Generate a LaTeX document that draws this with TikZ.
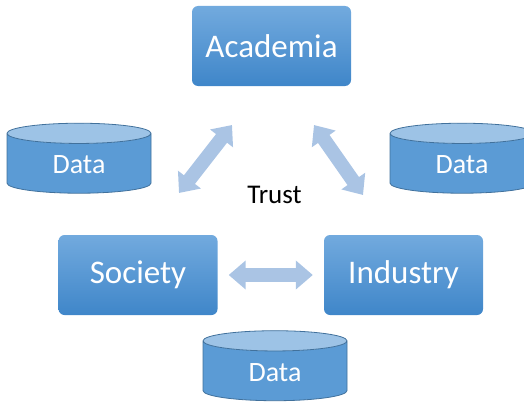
\documentclass[tikz,border=0pt]{standalone}
\usepackage{fontspec}
\setmainfont{Carlito}
\usetikzlibrary{shapes.geometric,arrows.meta}
\definecolor{boxtop}{HTML}{72AADE}
\definecolor{boxbottom}{HTML}{3F86C9}
\definecolor{drumbody}{HTML}{5B9BD5}
\definecolor{drumend}{HTML}{9DC3E6}
\definecolor{drumline}{HTML}{41719C}
\definecolor{trustblue}{HTML}{AAC4E4}
\tikzset{
  partner/.style={
    rounded corners=6pt, top color=boxtop, bottom color=boxbottom,
    text=white, minimum width=159pt, minimum height=80pt,
    font=\fontsize{33}{38}\selectfont}}
\tikzset{
  datadrum/.style={
    cylinder, shape border rotate=90, aspect=0.34,
    cylinder uses custom fill, cylinder body fill=drumbody,
    cylinder end fill=drumend, draw=drumline, line width=0.8pt,
    minimum width=144pt, minimum height=70pt, text=white,
    font=\fontsize{28}{32}\selectfont}}
\tikzset{
  trust arrow/.style={
    draw=trustblue, line width=14pt,
    {Triangle[width=28pt,length=17pt]}-{Triangle[width=28pt,length=17pt]}}}
\begin{document}
\begin{tikzpicture}[x=1pt,y=-1pt]
    \useasboundingbox (0,0) rectangle (524,404);
    \clip (0,0) rectangle (524,404);
    % partners
    \node[partner] (academia) at (271.5,46) {Academia};
    \node[partner] (society) at (138,275) {Society};
    \node[partner] (industry) at (403.5,275) {Industry};
    % data stores
    \node[datadrum] (data1) at (79,165) {Data};
    \node[datadrum] (data2) at (462,165) {Data};
    \node[datadrum] (data3) at (275,372.5) {Data};
    \node[font=\fontsize{27}{31}\selectfont] (trust) at (274.5,195) {Trust};
    % arrows
    \coordinate (la) at (232,125);
    \coordinate (ls) at (179,193);
    \coordinate (ra) at (314,125);
    \coordinate (ri) at (363,195);
    \draw[trust arrow] (la) -- (ls);
    \draw[trust arrow] (ra) -- (ri);
    \draw[trust arrow,shorten <=11pt,shorten >=11pt] (society.east) -- (industry.west);
\end{tikzpicture}
\end{document}
